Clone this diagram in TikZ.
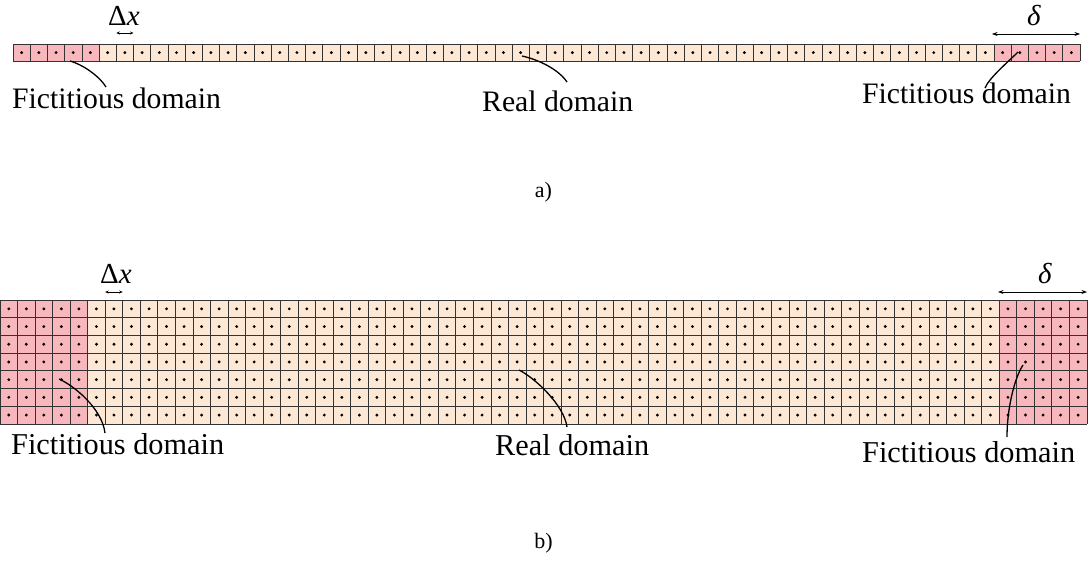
\documentclass[tikz,border=0pt]{standalone}
\usepackage{fontspec}
\setmainfont{Liberation Serif}
\usetikzlibrary{arrows.meta}
\definecolor{fict}{RGB}{248,182,189}
\definecolor{realc}{RGB}{253,232,214}
\begin{document}
\begin{tikzpicture}[x=1pt,y=-1pt,
  cellline/.style={draw=black!80, line width=0.65pt},
  celldot/.style={fill=black},
  leader/.style={draw=black, line width=1.3pt},
  lbl/.style={inner sep=0pt, anchor=base west, font=\fontsize{29.7}{32}\selectfont},
  lblb/.style={lbl, font=\fontsize{30.3}{32}\selectfont},
  captxt/.style={inner sep=0pt, anchor=base, font=\fontsize{22}{24}\selectfont},
  sym/.style={inner sep=0pt, anchor=base west, font=\fontsize{29}{30}\selectfont},
  dimsmall/.style={line width=0.6pt, {Stealth[length=3.5pt,width=3pt]}-{Stealth[length=3.5pt,width=3pt]}},
  dimlarge/.style={line width=0.7pt, {Stealth[length=5.5pt,width=4pt]}-{Stealth[length=5.5pt,width=4pt]}},
]
\useasboundingbox (0,0) rectangle (1090,560);

% ---------- a) one row of 62 cells ----------
\def\cwa{17.21}
\fill[fict]  (13,44) rectangle ++({5*\cwa},\cwa);
\fill[realc] ({13+5*\cwa},44) rectangle ++({52*\cwa},\cwa);
\fill[fict]  ({13+57*\cwa},44) rectangle ++({5*\cwa},\cwa);
\foreach \i in {0,...,62} \draw[cellline] ({13+\i*\cwa},44) -- ++(0,\cwa);
\draw[cellline] (13,44) -- ++({62*\cwa},0) (13,{44+\cwa}) -- ++({62*\cwa},0);
\foreach \i in {0,...,61} \fill[celldot] ({13+(\i+0.5)*\cwa},{44+0.5*\cwa}) circle[radius=1.6pt];

% dimension marks
\coordinate (adx1) at ({13+6*\cwa},33);
\coordinate (adx2) at ({13+7*\cwa},33);
\draw[dimsmall] (adx1) -- (adx2);
\node[sym] (adxl) at (108,25) {Δ\textit{x}};
\coordinate (ad1) at (992,34);
\coordinate (ad2) at (1080,34);
\draw[dimlarge] (ad1) -- (ad2);
\node[sym] (adl) at (1027,25) {\textit{δ}};

% labels and leaders
\node[lbl] (aFL) at (12,108) {Fictitious domain};
\node[lbl] (aRD) at (482,111) {Real domain};
\node[lbl] (aFR) at (862,103) {Fictitious domain};
\coordinate (aFLs) at (70,61);   \coordinate (aFLe) at (106,87);
\coordinate (aRDs) at (522,56);  \coordinate (aRDe) at (567,82);
\coordinate (aFRs) at (1018,52); \coordinate (aFRe) at (985,88);
\draw[leader] (aFLs) .. controls +(14,4) and +(-6,-10) .. (aFLe);
\draw[leader] (aRDs) .. controls +(18,4) and +(-8,-12) .. (aRDe);
\draw[leader] (aFRs) .. controls +(-10,10) and +(4,-10) .. (aFRe);

\node[captxt] (capa) at (543.5,197) {a)};

% ---------- b) 7 rows of 62 cells ----------
\def\cwb{17.53}
\def\chb{17.7}
\fill[fict]  (0,300) rectangle ++({5*\cwb},{7*\chb});
\fill[realc] ({5*\cwb},300) rectangle ++({52*\cwb},{7*\chb});
\fill[fict]  ({57*\cwb},300) rectangle ++({5*\cwb},{7*\chb});
\foreach \i in {0,...,62} \draw[cellline] ({\i*\cwb},300) -- ++(0,{7*\chb});
\foreach \j in {0,...,7} \draw[cellline] (0,{300+\j*\chb}) -- ++({62*\cwb},0);
\foreach \j in {0,...,6}
  \foreach \i in {0,...,61}
    \fill[celldot] ({(\i+0.5)*\cwb},{300+(\j+0.5)*\chb}) circle[radius=1.6pt];

\coordinate (bdx1) at ({6*\cwb},292);
\coordinate (bdx2) at ({7*\cwb},292);
\draw[dimsmall] (bdx1) -- (bdx2);
\node[sym] (bdxl) at (100,283) {Δ\textit{x}};
\coordinate (bd1) at (998,292);
\coordinate (bd2) at (1087,292);
\draw[dimlarge] (bd1) -- (bd2);
\node[sym] (bdl) at (1038,283) {\textit{δ}};

\node[lblb] (bFL) at (11,454) {Fictitious domain};
\node[lblb] (bRD) at (495,455) {Real domain};
\node[lblb] (bFR) at (862,462) {Fictitious domain};
\coordinate (bFLs) at (59,379);   \coordinate (bFLe) at (105,433);
\coordinate (bRDs) at (519,370);  \coordinate (bRDe) at (567,427);
\coordinate (bFRs) at (1023,365); \coordinate (bFRe) at (1007,437);
\draw[leader] (bFLs) .. controls +(14,6) and +(-3,-25) .. (bFLe);
\draw[leader] (bRDs) .. controls +(16,8) and +(-3,-22) .. (bRDe);
\draw[leader] (bFRs) .. controls +(-8,12) and +(0,-30) .. (bFRe);

\node[captxt] (capb) at (543.5,548) {b)};
\end{tikzpicture}
\end{document}
